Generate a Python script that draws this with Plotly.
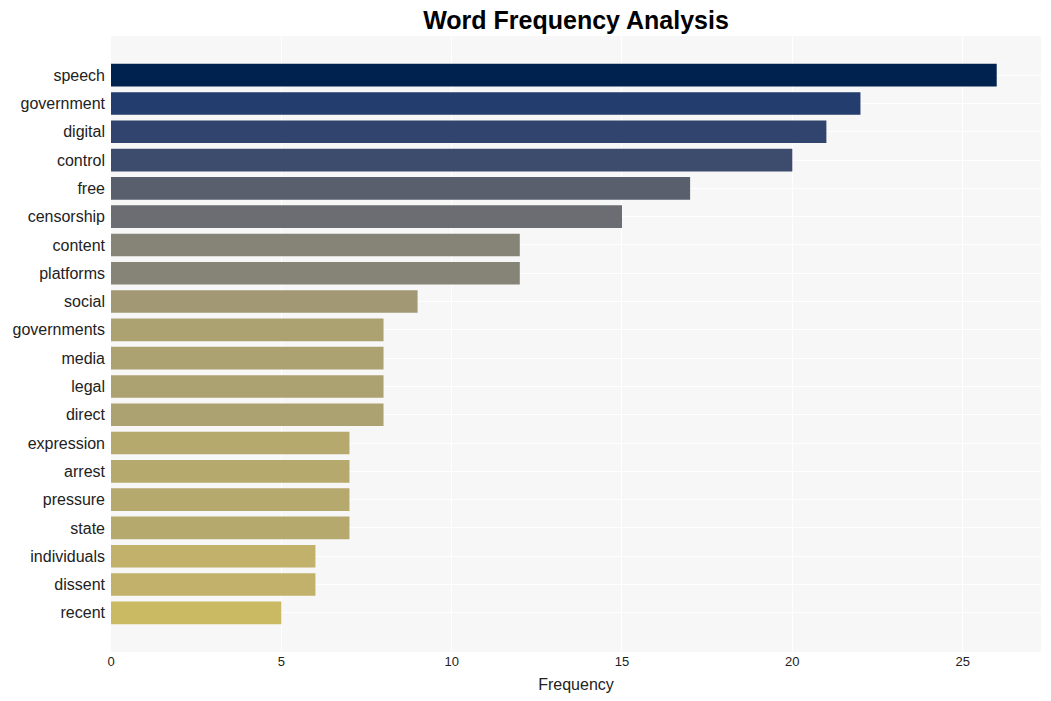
import plotly.graph_objects as go

words = ["speech", "government", "digital", "control", "free", "censorship",
         "content", "platforms", "social", "governments", "media", "legal",
         "direct", "expression", "arrest", "pressure", "state", "individuals",
         "dissent", "recent"]
counts = [26, 22, 21, 20, 17, 15, 12, 12, 9, 8, 8, 8, 8, 7, 7, 7, 7, 6, 6, 5]

fig = go.Figure(go.Bar(
    x=counts,
    y=words,
    orientation="h",
    marker=dict(color=counts, colorscale="Cividis", reversescale=True,
                cmin=0, cmax=max(counts), line=dict(width=0)),
))

fig.update_layout(
    width=1051, height=701,
    margin=dict(l=111, r=10, t=36, b=49),
    paper_bgcolor="white",
    plot_bgcolor="#f7f7f7",
    bargap=0.2,
    font=dict(family="Liberation Sans, Arial, sans-serif", color="#222"),
    title=dict(text="<b>Word Frequency Analysis</b>", x=0.5, xref="paper",
               xanchor="center", y=1 - 20 / 701, yref="container",
               yanchor="middle",
               font=dict(size=25, color="black")),
    xaxis=dict(title=dict(text="Frequency", font=dict(size=16), standoff=10),
               tickfont=dict(size=13), dtick=5, gridcolor="white",
               zeroline=False, showline=False, range=[0, 27.3]),
    yaxis=dict(categoryorder="array", categoryarray=words,
               range=[len(words) - 1 + 1.385, -1.385],
               tickfont=dict(size=16), gridcolor="white", showline=False,
               ticklabelstandoff=5),
    showlegend=False,
)

fig.write_html("out.html",
               config={"displayModeBar": False},
               post_script="document.body.style.margin='0';"
                           "document.body.style.overflow='hidden';")
